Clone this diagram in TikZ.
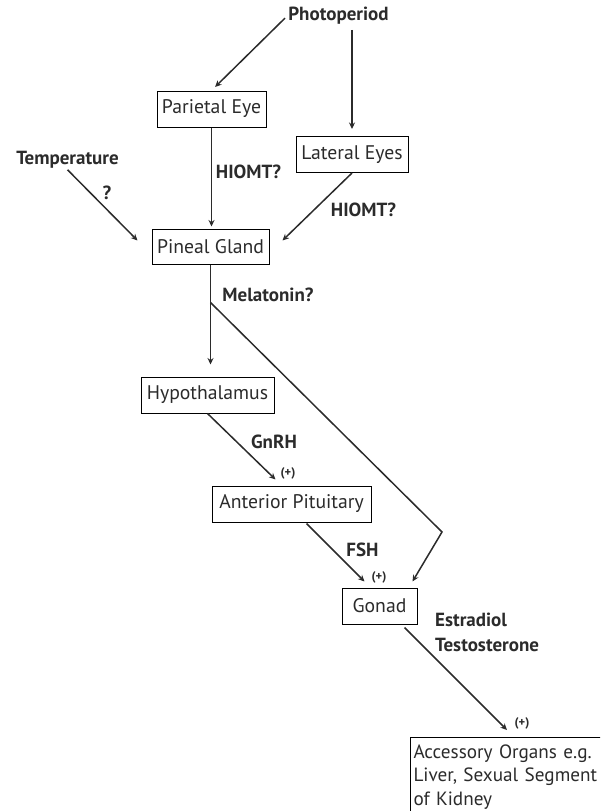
\documentclass[tikz,border=0pt]{standalone}
\usepackage{fontspec}
\setmainfont{PT Sans}
\usetikzlibrary{calc,arrows.meta}
\definecolor{ink}{HTML}{2B2B2B}
\begin{document}
\begin{tikzpicture}[x=1pt,y=-1pt,
  box/.style={draw=black,line width=1pt,fill=white,inner sep=0pt,
    font=\fontsize{19.7}{22}\selectfont,text=ink},
  lbl/.style={font=\fontsize{19}{25}\selectfont\bfseries,text=ink,inner sep=1pt},
  plus/.style={font=\fontsize{12.5}{14}\selectfont\bfseries,text=ink,inner sep=0pt},
  arr/.style={draw=ink,line width=1.5pt,-{Stealth[length=6.5pt,width=6pt]}},
  ln/.style={draw=ink,line width=1.5pt}]
\useasboundingbox (0,0) rectangle (600,811);
\clip (0,0) rectangle (600,811);

% boxes
\node[box,minimum width=109pt,minimum height=36pt] (parietal) at (211.5,109) {Parietal Eye};
\node[box,minimum width=112pt,minimum height=36pt] (lateral) at (352,154.5) {Lateral Eyes};
\node[box,minimum width=117pt,minimum height=35pt] (pineal) at (210.5,246.5) {Pineal Gland};
\node[box,minimum width=133pt,minimum height=36pt] (hypo) at (207.5,395) {Hypothalamus};
\node[box,minimum width=159pt,minimum height=36pt] (ant) at (291.5,504) {Anterior Pituitary};
\node[box,minimum width=75pt,minimum height=36pt] (gonad) at (379.5,606) {Gonad};
\node[box,anchor=north west,inner xsep=3pt,inner ysep=7pt,text width=210pt,align=left,
  font=\fontsize{19.2}{23.5}\selectfont] (acc) at (410,737)
  {Accessory Organs e.g.\\Liver, Sexual Segment\\of Kidney};

% labels
\node[lbl] (photo) at (338.5,16) {Photoperiod};
\node[lbl] (temp) at (67.5,160) {Temperature};
\node[lbl] (q) at (107,193) {?};
\node[lbl] (h1) at (248.5,172) {HIOMT?};
\node[lbl] (h2) at (363.5,210) {HIOMT?};
\node[lbl] (mel) at (268,295) {Melatonin?};
\node[lbl] (gnrh) at (274,442) {GnRH};
\node[plus] (p1) at (288,473) {(+)};
\node[lbl] (fsh) at (362.5,550) {FSH};
\node[plus] (p2) at (379,577) {(+)};
\node[lbl,anchor=west,align=left] (est) at (434,632.5) {Estradiol\\Testosterone};
\node[plus] (p3) at (522,723) {(+)};

% connectors
\draw[arr,shorten <=3pt,shorten >=5pt] (photo.west) -- (parietal.north);
\draw[arr,shorten <=4pt,shorten >=7pt] (lateral.north |- photo.south) -- (lateral.north);
\draw[arr,shorten >=2pt] (parietal.south) -- (parietal.south |- pineal.north);
\draw[arr] (temp.south) -- ($(pineal.west)+(-14,-6)$);
\draw[arr] (lateral.south) -- ($(pineal.east)+(13,-6)$);
\draw[arr,shorten >=12pt] (pineal.south) -- (pineal.south |- hypo.north);
\coordinate (br) at ($(pineal.south)+(0,38)$);
\coordinate (bend) at (442,532);
\draw[arr] (br) -- (bend) -- ($(gonad.north east)+(-5,-6)$);
\draw[arr] (hypo.south) -- ($(ant.north)+(-16,-6)$);
\draw[arr] ($(ant.south)+(15,1)$) -- ($(gonad.north)+(-15,-6)$);
\draw[arr] ($(gonad.south)+(25,3)$) -- ($(acc.north west)+(97,-7)$);
\end{tikzpicture}
\end{document}
